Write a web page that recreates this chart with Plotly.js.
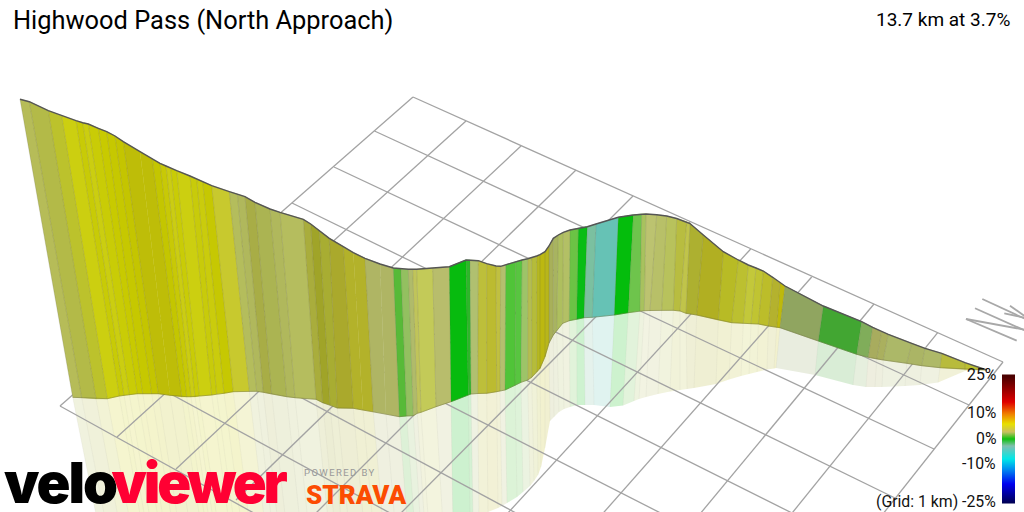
<!DOCTYPE html>
<html>
<head>
<meta charset="utf-8">
<script src="https://cdn.plot.ly/plotly-3.0.1.min.js"></script>
<style>html,body{margin:0;padding:0;background:#fff}#chart{width:1024px;height:512px}</style>
</head>
<body>
<div id="chart"></div>
<script>
// Wall: crest of the climb profile
const topX=[20,29.3,48.3,61.7,76,82.7,88.3,98.3,106.7,115,123.3,140,152.3,160,166,170.7,176.7,190,196.7,202.7,211.7,229.3,237.3,245,255,270,280,303.3,310.7,319.3,329.3,343.3,353.3,365,380,393.3,401,408.3,412.7,416.7,432.7,449.3,466,470,478.3,486.7,496,500.7,505.7,515.7,522,527.7,531.7,536.7,540,545,549,553.3,558.3,563.3,570,578.3,587.3,596,618.3,633.3,641.7,646,656.7,666.7,676.7,686.7,690,703.3,723.3,738.3,748.3,756,763.3,772.7,780,785,823.3,861.7,872.7,881.7,888.3,911.7,925,941.7,965,986.7];
const topY=[99.3,101.7,110.7,115.7,120.7,122.7,124,128.3,131.7,136,141.7,151.7,159.3,163.3,166,168.3,170.7,176,179,181.7,185.7,191.7,194,196.7,202.3,209,212.3,219.3,224,230.7,238.3,246.7,252.7,258.3,264,268,269,269.3,269.3,269.3,268,266.7,260,260,260.7,263.7,266,266.3,264.7,261.7,260,258.7,257.7,256,254.7,251.7,246,238.3,235,232.3,230,228.3,226.7,224,217.3,215,214,214,214.8,216,218.5,221.8,223.5,235,251.7,260,265,268,271,277.3,282.7,286,306,321.7,327.3,331.7,334.3,343.3,348.3,353.3,362.7,370];
// Wall: foot of the profile on the grid
const baseX=[72.7,81.7,96,107.3,119.3,124,129.3,137.3,142.7,151.7,158.3,170,181.7,186.7,191,195,199.3,211.7,216.7,224,233.3,249.3,256.7,263.3,271.7,286.7,295,316,322.7,330,337.3,353.3,363,373.3,386,399.3,406.7,413.3,417.3,421,436,451,468.3,471,477.7,486.7,496.7,500,505,515,521,527.7,531.7,536.7,540,545,549,553.3,556.7,562.7,569.3,576.7,584,592.3,614.3,628.3,640,644.3,650,661.7,673.3,680,686,696.7,718.3,731.7,743.3,751,758.3,768.3,776.7,780,818.3,856.7,868.3,876.7,883.3,906.7,921.7,940,965,986.7];
const baseY=[397.3,397.7,398.7,398.7,396,395.3,394.7,393.7,393.7,393.7,393.7,395.3,396.7,396.7,396.7,396.7,396,395,394,393.3,391.7,391.3,391.3,392.3,394,396.7,397.7,399.3,402.7,405,408,408.3,410,411.7,414,416.7,416,415.7,413.3,412.3,406.7,401.7,395,394,393.5,393.3,391.7,391,390,385.3,382.3,380,377.3,372,368.3,356.7,343,335,330.7,323.3,320.7,319.3,317.7,317.3,315,312.7,311,310.7,310.5,310.3,310.3,311,313.3,315,320,322.7,323.3,323.7,324,326,327.3,327.7,341,354.3,357.3,359,360,363.3,365.7,367.7,369.3,370];
// Shadow of the profile cast on the grid
const shadowX=[105,113,126,137,148,152,157,165,170,178,184,195,206,211,215,219,223,234,239,246,254,269,276,282,290,304,312,332,338,345,352,367,376,386,398,410,417,423,427,431,445,453,470,473,479,488,498,502,507,517,523,530,534,538,541,545,550,554,559,564,570,577,585,594,610,623,634,639,646,658,670,680,687,694,716,729,741,749,757,767,774,776,815,853,866,875,882,905,920,938,965,986.7];
const shadowY=[560,560,560,560,560,560,560,560,560,560,560,560,560,560,560,560,560,560,560,560,560,560,560,560,560,560,560,560,560,560,560,560,560,560,560,560,560,560,560,560,560,527,520,519,515,512,508,506,503,497,492,486,481,475,467,448,421,417,412,409,407,405,405,405,407,405.5,401,399,397,394,391.5,390,389,388,384,379.5,376,374,372,369.5,368.5,368,375,385,387,387,387,386,385,382.5,371,370];
// Gradient colour of each strip between neighbouring rows
const stripColors=['#b6bc58','#b3ba48','#bcc22c','#cccf10','#c8cb06','#cbce10','#c9cc06','#c8ca00','#c6c800','#c4c500','#bebd08','#bebd08','#c4c600','#c8c906','#cbcd12','#c9cc06','#cccf10','#c8cb0a','#cacc0c','#c6c802','#c8c92e','#b4bd5c','#b0b85c','#a8ad46','#abb452','#b0b85c','#b5bd5e','#a9ad3c','#a0a428','#a8ad32','#aaa92c','#b3b22a','#b3b22a','#afb564','#afb564','#57ba38','#93c060','#b0bb6a','#c0c45a','#c3ca58','#b8bd6c','#07bb0e','#2cb828','#b0c070','#bdbf3a','#bcbb30','#c0c040','#b4bf6e','#50c438','#58c540','#9dc468','#b4bd50','#b5bc3a','#b6b820','#bcb810','#b8b61a','#a8b05a','#a8b460','#aebf5e','#b3c065','#6bc345','#08bd14','#7bc0a0','#66c2b5','#04bd0c','#6ec44c','#a8c25e','#bcc370','#b8c068','#b8c25c','#b8bd40','#c0c44a','#adb030','#b1af22','#b8bb25','#bcc030','#c3c83a','#c0c432','#bcbd2a','#b4b22e','#bdb90c','#90a560','#42a632','#80ad5a','#a8ac5e','#aab05e','#acb868','#abb565','#aeb968','#b8bb3c','#bcc030'];
// Ground grid: line ends
const gridAx0=[413,374.5,334,292,248,203,157,110,60];
const gridAy0=[97,131,167,203,241,280,320,361,406];
const gridAx1=[1003,969,934,895,860,800,700,600,520];
const gridAy1=[362,405,449,498,547,584,612,627,660];
const gridBx0=[413,466,521,576,633,690,750.7,811.7,874,937.7,1003];
const gridBy0=[97,121,146,170,196,222,249,277,304,332.7,362];
const gridBx1=[60,117,176,236,300,400,495,590,690,780,860];
const gridBy1=[406,437,469,500,529,514,527,528,526,528,543];
// North arrow strokes
const northX0=[966,966,975,982.3,1010,1004.3];
const northY0=[319,319,308.3,299,305.7,313.3];
const northX1=[1016.7,1026,1026,1026,1026,1026];
const northY1=[340.7,330,331,319.3,317,318];
// Colour key
const keyRows=[375,376,401.7,413,423,431.7,438,445,458,468,483,502,503];
const keyColors=['#4a0000','#4c0000','#e00000','#f08000','#e8e000','#c8c060','#10c010','#80c0b0','#00e8e8','#0090f0','#0000f0','#000054','#000050'];
const keyLabels=['25%','10%','0%','-10%','(Grid: 1 km) -25%'];
const keyLabelY=[374,412,438,463,501];

function joinSegs(x0,y0,x1,y1){const xs=[],ys=[];x0.forEach((v,i)=>{xs.push(v,x1[i],null);ys.push(y0[i],y1[i],null);});return{xs,ys};}
const traces=[];
// shadow strips
stripColors.forEach((c,i)=>{
  traces.push({type:'scatter',mode:'lines',hoverinfo:'skip',fill:'toself',fillcolor:c,opacity:0.2,line:{width:0,color:c},
    x:[baseX[i],baseX[i+1],shadowX[i+1],shadowX[i]],y:[baseY[i],baseY[i+1],shadowY[i+1],shadowY[i]]});
});
// shadow ribs
const shRibs=joinSegs(baseX,baseY,shadowX,shadowY);
traces.push({type:'scatter',mode:'lines',hoverinfo:'skip',x:shRibs.xs,y:shRibs.ys,line:{width:0.8,color:'rgba(120,120,100,0.08)'}});
// grid
const gA=joinSegs(gridAx0,gridAy0,gridAx1,gridAy1), gB=joinSegs(gridBx0,gridBy0,gridBx1,gridBy1);
traces.push({type:'scatter',mode:'lines',hoverinfo:'skip',x:gA.xs.concat(gB.xs),y:gA.ys.concat(gB.ys),line:{width:1.3,color:'#a3a3a3'}});
// north arrow
const nn=joinSegs(northX0,northY0,northX1,northY1);
traces.push({type:'scatter',mode:'lines',hoverinfo:'skip',x:nn.xs,y:nn.ys,line:{width:1.8,color:'#a8a8a8'}});
// wall strips
stripColors.forEach((c,i)=>{
  traces.push({type:'scatter',mode:'lines',hoverinfo:'skip',fill:'toself',fillcolor:c,line:{width:0.6,color:c},
    x:[topX[i],topX[i+1],baseX[i+1],baseX[i]],y:[topY[i],topY[i+1],baseY[i+1],baseY[i]]});
});
// ribs where the colour changes
const rx=[],ry=[];
topX.forEach((v,i)=>{
  if(i===0||i===topX.length-1||stripColors[i]!==stripColors[i-1]){rx.push(v,baseX[i],null);ry.push(topY[i],baseY[i],null);}
});
traces.push({type:'scatter',mode:'lines',hoverinfo:'skip',x:rx,y:ry,line:{width:0.9,color:'rgba(95,95,70,0.22)'}});
traces.push({type:'scatter',mode:'lines',hoverinfo:'skip',x:baseX,y:baseY,line:{width:0.8,color:'rgba(100,100,50,0.5)'}});
traces.push({type:'scatter',mode:'lines',hoverinfo:'skip',x:topX,y:topY,line:{width:1.4,color:'#555555'}});
// colour key
const kmin=keyRows[0],kspan=keyRows[keyRows.length-1]-kmin;
traces.push({type:'heatmap',hoverinfo:'skip',showscale:false,zsmooth:'best',x:[1005.25,1011.75],y:keyRows,
  z:keyRows.map(v=>[v,v]),zmin:kmin,zmax:kmin+kspan,
  colorscale:keyRows.map((v,i)=>[(v-kmin)/kspan,keyColors[i]])});

const FONT='Roboto, sans-serif';
const ann=[
 {x:13,y:20,text:'Highwood Pass (North Approach)',xanchor:'left',font:{size:25.4,color:'#000',family:FONT}},
 {x:1010,y:19,text:'13.7 km at 3.7%',xanchor:'right',font:{size:19,color:'#000',family:FONT}},
 {x:59.5,y:483,text:'velo',xanchor:'center',font:{size:56,color:'#000',family:'Inter, sans-serif',weight:900}},
 {x:198,y:483,text:'viewer',xanchor:'center',font:{size:56,color:'#ff0033',family:'Inter, sans-serif',weight:900}},
 {x:340,y:472,text:'POWERED BY',xanchor:'center',font:{size:9.5,color:'#999999',family:FONT}},
 {x:356.5,y:494.5,text:'STRAVA',xanchor:'center',font:{size:26,color:'#fc4c02',family:FONT,weight:900}}
];
keyLabels.forEach((t,i)=>ann.push({x:996,y:keyLabelY[i],text:t,xanchor:'right',font:{size:15.8,color:'#111',family:FONT}}));
ann.forEach(a=>{a.xref='x';a.yref='y';a.showarrow=false;a.yanchor='middle';a.borderpad=0;a.borderwidth=0;});

Plotly.newPlot('chart',traces,{
  width:1024,height:512,margin:{l:0,r:0,t:0,b:0,pad:0},showlegend:false,
  paper_bgcolor:'#fff',plot_bgcolor:'#fff',
  xaxis:{range:[0,1024],visible:false,fixedrange:true},
  yaxis:{range:[512,0],visible:false,fixedrange:true},
  annotations:ann
},{displayModeBar:false,staticPlot:true}).then(()=>{
  document.querySelectorAll('.annotation-text').forEach(t=>{
    const s=t.textContent;
    if(s==='velo')t.style.letterSpacing='-2px';
    if(s==='viewer')t.style.letterSpacing='-3.2px';
    if(s==='POWERED BY')t.style.letterSpacing='1.4px';
  });
});
</script>
</body>
</html>
